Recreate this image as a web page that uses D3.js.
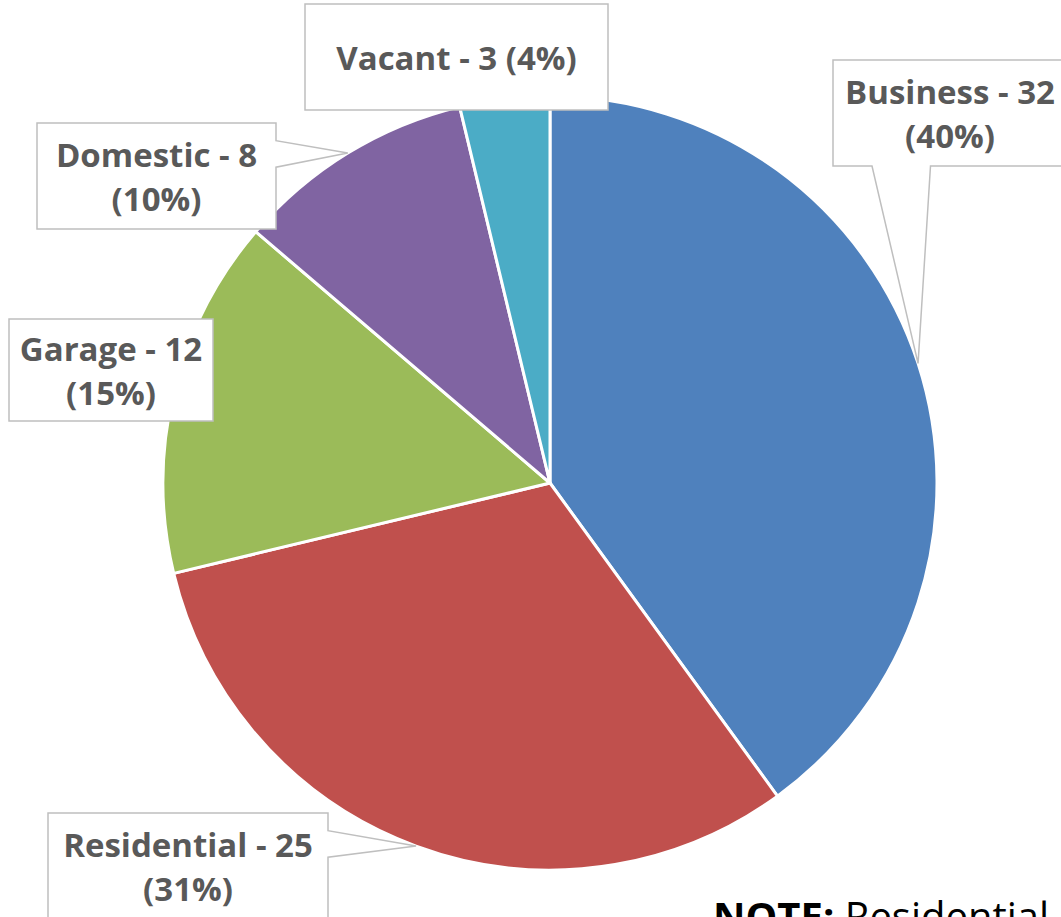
<!DOCTYPE html>
<html>
<head>
<meta charset="utf-8">
<script src="https://cdn.jsdelivr.net/npm/d3@7"></script>
<style>
  html, body { margin: 0; padding: 0; background: #fff; overflow: hidden; }
  svg { display: block; }
  text { font-family: "Open Sans", "Noto Sans", sans-serif; }
</style>
</head>
<body>
<div id="chart"></div>
<script>
// Data for the pie chart
const categories = ['Business', 'Residential', 'Garage', 'Domestic', 'Vacant'];
const counts = [32, 25, 12, 8, 3];
const percents = ['40%', '31%', '15%', '10%', '4%'];
const colors = ['#4f81bd', '#c0504d', '#9bbb59', '#8064a2', '#4bacc6'];

// Where the callout boxes sit (box center, size, lines, pointer side)
const labelLayout = [
  { cx: 950, cy: 113, w: 234, h: 106, lines: 2, side: 'bottom' },
  { cx: 188, cy: 866, w: 280, h: 106, lines: 2, side: 'right' },
  { cx: 111, cy: 370, w: 204, h: 102, lines: 2, side: null },
  { cx: 156.5, cy: 176, w: 239, h: 106, lines: 2, side: 'right' },
  { cx: 456.5, cy: 57, w: 303, h: 106, lines: 1, side: null }
];

// Size of the chart
const width = 1061;
const height = 917;
const cx = 550;
const cy = 483;
const radius = 387;

const svg = d3.select('#chart')
  .append('svg')
  .attr('width', width)
  .attr('height', height);

// Pie layout, clockwise from 12 o'clock, in data order
const pie = d3.pie().sort(null).value(d => d.value);
const arcs = pie(categories.map((c, i) => ({ name: c, value: counts[i], pct: percents[i], color: colors[i] })));

const arc = d3.arc().innerRadius(0).outerRadius(radius);
const edgeArc = d3.arc().innerRadius(radius).outerRadius(radius);

const g = svg.append('g').attr('transform', `translate(${cx},${cy})`);

g.selectAll('path.slice')
  .data(arcs)
  .enter()
  .append('path')
  .attr('class', 'slice')
  .attr('d', arc)
  .attr('fill', d => d.data.color)
  .attr('stroke', '#fff')
  .attr('stroke-width', 3)
  .attr('stroke-linejoin', 'round');

// Callout outline: rectangle with a notch pulled out to the slice edge
function calloutPath(b, tip) {
  const x0 = b.cx - b.w / 2, x1 = b.cx + b.w / 2;
  const y0 = b.cy - b.h / 2, y1 = b.cy + b.h / 2;
  const p = d3.path();
  p.moveTo(x0, y0);
  p.lineTo(x1, y0);
  if (b.side === 'right') {
    p.lineTo(x1, y0 + b.h / 6);
    p.lineTo(tip[0], tip[1]);
    p.lineTo(x1, y0 + b.h * 5 / 12);
  }
  p.lineTo(x1, y1);
  if (b.side === 'bottom') {
    p.lineTo(x0 + b.w * 5 / 12, y1);
    p.lineTo(tip[0], tip[1]);
    p.lineTo(x0 + b.w / 6, y1);
  }
  p.lineTo(x0, y1);
  p.closePath();
  return p.toString();
}

const labels = svg.selectAll('g.label')
  .data(arcs)
  .enter()
  .append('g')
  .attr('class', 'label');

labels.append('path')
  .attr('d', (d, i) => {
    const c = edgeArc.centroid(d);
    return calloutPath(labelLayout[i], [cx + c[0], cy + c[1]]);
  })
  .attr('fill', '#fff')
  .attr('stroke', '#bfbfbf')
  .attr('stroke-width', 1.5);

const fontSize = 33;
const lineH = 44;
const capH = 24;

labels.each(function (d, i) {
  const b = labelLayout[i];
  const lines = b.lines === 2
    ? [`${d.data.name} - ${d.data.value}`, `(${d.data.pct})`]
    : [`${d.data.name} - ${d.data.value} (${d.data.pct})`];
  const first = b.cy - ((lines.length - 1) * lineH + capH) / 2 + capH + 1;
  d3.select(this).selectAll('text')
    .data(lines)
    .enter()
    .append('text')
    .attr('x', b.cx)
    .attr('y', (t, k) => first + k * lineH)
    .attr('text-anchor', 'middle')
    .attr('font-size', fontSize)
    .attr('font-weight', 'bold')
    .attr('fill', '#595959')
    .text(t => t);
});

// Note at the bottom (cut off by the frame)
const note = svg.append('text')
  .attr('x', 713)
  .attr('y', 931)
  .attr('font-size', 40)
  .attr('fill', '#000');
note.append('tspan').attr('font-weight', 'bold').text('NOTE:');
note.append('tspan').text(' Residential');
</script>
</body>
</html>
